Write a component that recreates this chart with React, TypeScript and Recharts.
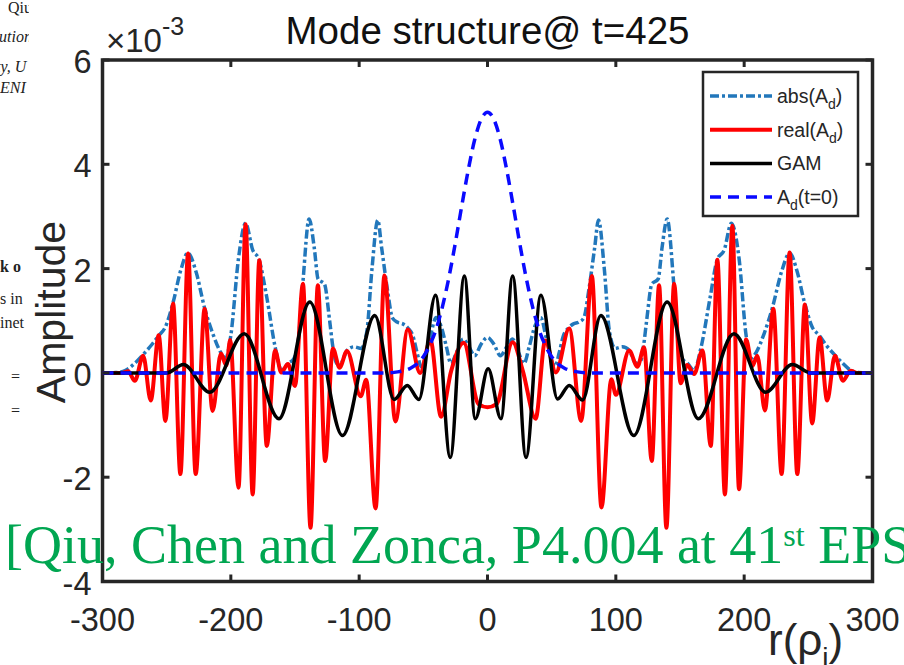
import React from 'react';
import { LineChart, Line, XAxis, YAxis, ReferenceArea } from 'recharts';

const X_TICKS = [-300, -200, -100, 0, 100, 200, 300];
const Y_TICKS = [-4, -2, 0, 2, 4, 6];

// [r (rho_i), amplitude in units of 1e-3]
const ABS_AD: [number, number][] = [
  [-300, 0], [-288, 0.01], [-282, 0.05], [-275, 0.18], [-268, 0.36], [-262, 0.53], [-256, 0.72], [-251, 0.88],
  [-245, 1.35], [-239, 1.97], [-233.5, 2.3], [-227, 1.93], [-220.5, 1.25], [-214, 0.75], [-208, 0.4], [-204, 0.28],
  [-200, 0.72], [-194, 2.2], [-188.5, 2.87], [-183, 2.36], [-178, 2.17], [-172, 1.45], [-165.5, 0.5], [-160.5, 0.05],
  [-155.5, 0.18], [-151, 0.27], [-147.5, 0.6], [-143.8, 1.75], [-139, 2.95], [-135, 2.4], [-132, 1.8], [-127, 1.7],
  [-123, 1.0], [-120.5, 0.5], [-117.5, 0.18], [-114, 0.2], [-109.5, 0.43], [-104, 0.5], [-98.5, 0.47], [-94, 0.8],
  [-90, 2.0], [-85.5, 2.93], [-82.5, 2.4], [-78, 1.6], [-74, 1.05], [-70, 0.97], [-66, 0.94], [-62, 0.86],
  [-58, 0.7], [-55, 0.4], [-51.5, 0.12], [-45, 0.65], [-40, 1.06], [-36, 0.88], [-32, 0.5], [-28.5, 0.18],
  [-24, 0.4], [-19, 0.65], [-14.5, 0.5], [-10, 0.33], [-5, 0.55], [0, 0.68], [5, 0.55], [10, 0.33],
  [15, 0.5], [19.5, 0.65], [24, 0.4], [28.5, 0.18], [32.5, 0.5], [37, 0.9], [41.5, 1.06], [46, 0.65],
  [52.5, 0.12], [56, 0.4], [59, 0.7], [63, 0.86], [67, 0.94], [71, 0.97], [75, 1.05], [79, 1.6],
  [83.5, 2.4], [86.5, 2.93], [91, 2.0], [95, 0.8], [99.5, 0.47], [105, 0.5], [110.5, 0.43], [115, 0.2],
  [118.5, 0.18], [121.5, 0.5], [124, 1.0], [128, 1.7], [133, 1.8], [136, 2.4], [140, 2.95], [145, 1.75],
  [148.5, 0.6], [152, 0.27], [156, 0.18], [161, 0.05], [166.5, 0.5], [173.5, 1.45], [179, 2.17], [184.5, 2.36],
  [190, 2.87], [196, 2.2], [201.5, 0.72], [205.5, 0.28], [209.5, 0.4], [215.5, 0.75], [222, 1.25], [229, 1.93],
  [235.5, 2.3], [241, 1.97], [247, 1.35], [253, 0.88], [258.5, 0.72], [264, 0.53], [270, 0.36], [277, 0.18],
  [283, 0.05], [289, 0.01], [300, 0],
];

const REAL_AD: [number, number][] = [
  [-300, 0], [-285, 0], [-280, 0.03], [-274.8, -0.15], [-268.3, 0.33], [-262.4, -0.53], [-256.2, 0.72], [-251, -0.92],
  [-245, 1.33], [-239.3, -1.94], [-233.3, 2.29], [-227.4, -1.94], [-220.4, 1.23], [-214.2, -0.73], [-207.7, 0.37], [-203.5, 0.14],
  [-200.5, 0.63], [-194, -2.2], [-188.5, 2.85], [-183, -2.33], [-177.8, 2.16], [-172, -1.4], [-165.5, 0.43], [-160.7, 0.01],
  [-155.5, 0.17], [-150, -0.25], [-143.8, 1.71], [-137.9, -2.97], [-132.2, 1.68], [-126.5, -1.69], [-120.5, 0.47], [-115.3, 0.1],
  [-109.5, 0.42], [-98.8, -0.45], [-94.5, -0.13], [-87.2, -2.6], [-80.3, 1.87], [-71.8, -0.93], [-62.1, 0.83], [-52.5, 0.0],
  [-44.5, 0.63], [-36.2, -0.84], [-28.4, 0.03], [-18.6, 0.58], [-7, -0.6], [0, -0.66], [7, -0.6], [19.6, 0.59],
  [27.4, 0.05], [37.5, -0.88], [45, 0.62], [53.3, 0.01], [63.7, 0.85], [73, -0.92], [81.3, 1.86], [88.8, -2.58],
  [96.5, -0.12], [100, -0.42], [110.4, 0.43], [116.8, 0.12], [122, 0.49], [128, -1.69], [133.7, 1.68], [139.4, -2.97],
  [145.4, 1.71], [150.5, -0.2], [155.5, 0.15], [161, -0.02], [167.5, 0.43], [174, -1.4], [179.1, 2.17], [185, -2.33],
  [190.8, 2.82], [196, -2.23], [201.5, 0.64], [206.4, 0.13], [210.2, 0.33], [216.2, -0.72], [222.7, 1.23], [229.2, -1.94],
  [235.4, 2.31], [241.4, -1.94], [247.3, 1.31], [253, -0.97], [258.8, 0.68], [264.7, -0.53], [270.7, 0.33], [276.9, -0.15],
  [282.9, 0.04], [288, 0], [300, 0],
];

const GAM: [number, number][] = [
  [-300, 0], [-250, 0], [-237, 0.16], [-216.5, -0.37], [-189.5, 0.75], [-162.5, -0.88], [-138.5, 1.36], [-113, -1.2],
  [-87.8, 1.1], [-72.8, -0.51], [-62.5, -0.24], [-53.5, -0.51], [-40.5, 1.49], [-29, -1.62], [-18, 1.86], [-9.5, -0.88],
  [0.5, 0.08], [10.5, -0.88], [19.6, 1.86], [30, -1.62], [41.6, 1.49], [54.6, -0.5], [63.7, -0.24], [74.1, -0.52],
  [88.3, 1.1], [114, -1.2], [140, 1.36], [164.3, -0.88], [192, 0.75], [216.7, -0.37], [237.5, 0.16], [252, 0],
  [300, 0],
];

const AD_T0: [number, number][] = [
  [-300, 0], [-80, 0], [-70, 0.02], [-60, 0.09], [-55, 0.17], [-50, 0.31], [-45, 0.53], [-40, 0.84],
  [-35, 1.28], [-30, 1.84], [-25, 2.5], [-20, 3.21], [-15, 3.89], [-10, 4.47], [-5, 4.86], [0, 5.0],
  [5, 4.86], [10, 4.47], [15, 3.89], [20, 3.21], [25, 2.5], [30, 1.84], [35, 1.28], [40, 0.84],
  [45, 0.53], [50, 0.31], [55, 0.17], [60, 0.09], [70, 0.02], [80, 0], [300, 0],
];

const toPoints = (pairs: [number, number][]) => pairs.map(([r, v]) => ({ r, v }));

const SERIES = [
  { id: 'abs', pre: 'abs(A', sub: 'd', post: ')', data: ABS_AD, color: '#2277bb', width: 3.5, dash: '9 3 3 3' },
  { id: 'real', pre: 'real(A', sub: 'd', post: ')', data: REAL_AD, color: '#ff0000', width: 4, dash: undefined },
  { id: 'gam', pre: 'GAM', sub: '', post: '', data: GAM, color: '#000000', width: 3.5, dash: undefined },
  { id: 't0', pre: 'A', sub: 'd', post: '(t=0)', data: AD_T0, color: '#0a0aff', width: 3.5, dash: '11 7' },
];

const SIDE_TEXT = [
  { t: 'Qiu', x: 8, y: 13, style: 'normal', weight: 400 },
  { t: 'ution', x: -1, y: 42, style: 'italic', weight: 400 },
  { t: 'ty, U', x: -4, y: 72, style: 'italic', weight: 400 },
  { t: 'ENI', x: 0, y: 93, style: 'italic', weight: 400 },
  { t: 'k o', x: 0, y: 272, style: 'normal', weight: 700 },
  { t: 's in', x: 0, y: 304, style: 'normal', weight: 400 },
  { t: 'inet', x: 0, y: 328, style: 'normal', weight: 400 },
  { t: '=', x: 11, y: 382, style: 'normal', weight: 400 },
  { t: '=', x: 11, y: 416, style: 'normal', weight: 400 },
];

const AXIS = '#262626';
const SANS = "'Liberation Sans', Arial, sans-serif";
const SERIF = "'Liberation Serif', 'Times New Roman', serif";
const PLOT_W = 770;
const PLOT_H = 521.5;

const XTick = (props: any) => {
  const { x, y, payload } = props;
  return (
    <g>
      <line x1={x} x2={x} y1={y} y2={y - 7} stroke={AXIS} strokeWidth={3} />
      <line x1={x} x2={x} y1={y - PLOT_H} y2={y - PLOT_H + 7} stroke={AXIS} strokeWidth={3} />
      <text x={x} y={y + 49} textAnchor="middle" fontSize={32.5} fontFamily={SANS} fill={AXIS}>
        {payload.value}
      </text>
    </g>
  );
};

const YTick = (props: any) => {
  const { x, y, payload } = props;
  return (
    <g>
      <line x1={x} x2={x + 7} y1={y} y2={y} stroke={AXIS} strokeWidth={3} />
      <line x1={x + PLOT_W - 7} x2={x + PLOT_W} y1={y} y2={y} stroke={AXIS} strokeWidth={3} />
      <text x={x - 11} y={y + 13} textAnchor="end" fontSize={32.5} fontFamily={SANS} fill={AXIS}>
        {payload.value}
      </text>
    </g>
  );
};

export default function App() {
  return (
    <div style={{ position: 'relative', width: 904, height: 665, overflow: 'hidden', background: '#fff' }}>
      <style>{'body{margin:0}'}</style>
      <div style={{ position: 'absolute', left: 0, top: 0 }}>
        <LineChart width={904} height={665} margin={{ top: 60, right: 31.5, bottom: 53.5, left: 42.5 }}>
          <XAxis
            type="number"
            dataKey="r"
            domain={[-300, 300]}
            ticks={X_TICKS}
            interval={0}
            allowDataOverflow
            axisLine={false}
            tickLine={false}
            tickSize={0}
            tickMargin={0}
            height={30}
            tick={<XTick />}
          />
          <YAxis
            type="number"
            domain={[-4, 6]}
            ticks={Y_TICKS}
            interval={0}
            allowDataOverflow
            axisLine={false}
            tickLine={false}
            tickSize={0}
            tickMargin={0}
            width={60}
            tick={<YTick />}
          />
          <ReferenceArea x1={-300} x2={300} y1={-4} y2={6} fill="none" fillOpacity={0} stroke={AXIS} strokeWidth={3.5} />
          {SERIES.map((s) => (
            <Line
              key={s.id}
              data={toPoints(s.data)}
              dataKey="v"
              type="monotone"
              stroke={s.color}
              strokeWidth={s.width}
              strokeDasharray={s.dash}
              strokeLinejoin="round"
              dot={false}
              activeDot={false}
              isAnimationActive={false}
            />
          ))}
        </LineChart>
      </div>
      <svg width={904} height={665} style={{ position: 'absolute', left: 0, top: 0, pointerEvents: 'none' }}>
        <defs>
          <clipPath id="side-clip">
            <rect x={0} y={0} width={29} height={665} />
          </clipPath>
        </defs>
        <g clipPath="url(#side-clip)" fontFamily={SERIF} fontSize={16} fill="#222">
          {SIDE_TEXT.map((f, i) => (
            <text key={i} x={f.x} y={f.y} fontStyle={f.style} fontWeight={f.weight}>
              {f.t}
            </text>
          ))}
        </g>

        <text x={487.5} y={44} textAnchor="middle" fontFamily={SANS} fontSize={38.5} fill="#111">
          Mode structure@ t=425
        </text>
        <text x={106} y={52} fontFamily={SANS} fontSize={33} fill={AXIS}>
          ×10<tspan fontSize={25} dy={-17}>-3</tspan>
        </text>
        <text x={65} y={312} transform="rotate(-90 65 312)" textAnchor="middle" fontFamily={SANS} fontSize={41} fill={AXIS}>
          Amplitude
        </text>
        <text x={768} y={655} fontFamily={SANS} fontSize={44} fill={AXIS}>
          r(ρ<tspan fontSize={28} dy={12}>i</tspan><tspan dy={-12}>)</tspan>
        </text>

        <g>
          <rect x={703} y={72} width={155} height={144} fill="#fff" stroke={AXIS} strokeWidth={2.5} />
          {SERIES.map((s, i) => {
            const ly = 96 + i * 33.7;
            return (
              <g key={s.id}>
                <line x1={710} x2={772} y1={ly} y2={ly} stroke={s.color} strokeWidth={s.width} strokeDasharray={s.dash} />
                <text x={777} y={ly + 7} fontFamily={SANS} fontSize={19.5} fill={AXIS}>
                  {s.pre}
                  {s.sub ? <tspan fontSize={14} dy={6}>{s.sub}</tspan> : null}
                  {s.post ? <tspan dy={s.sub ? -6 : 0}>{s.post}</tspan> : null}
                </text>
              </g>
            );
          })}
        </g>

        <text x={5} y={563} fontFamily={SERIF} fontSize={54} fill="#00a651" style={{ whiteSpace: 'pre' }}>
          [Qiu, Chen and Zonca, P4.004 at 41<tspan fontSize={32} dy={-17}>st</tspan><tspan dy={17}> EPS</tspan>
        </text>
      </svg>
    </div>
  );
}
